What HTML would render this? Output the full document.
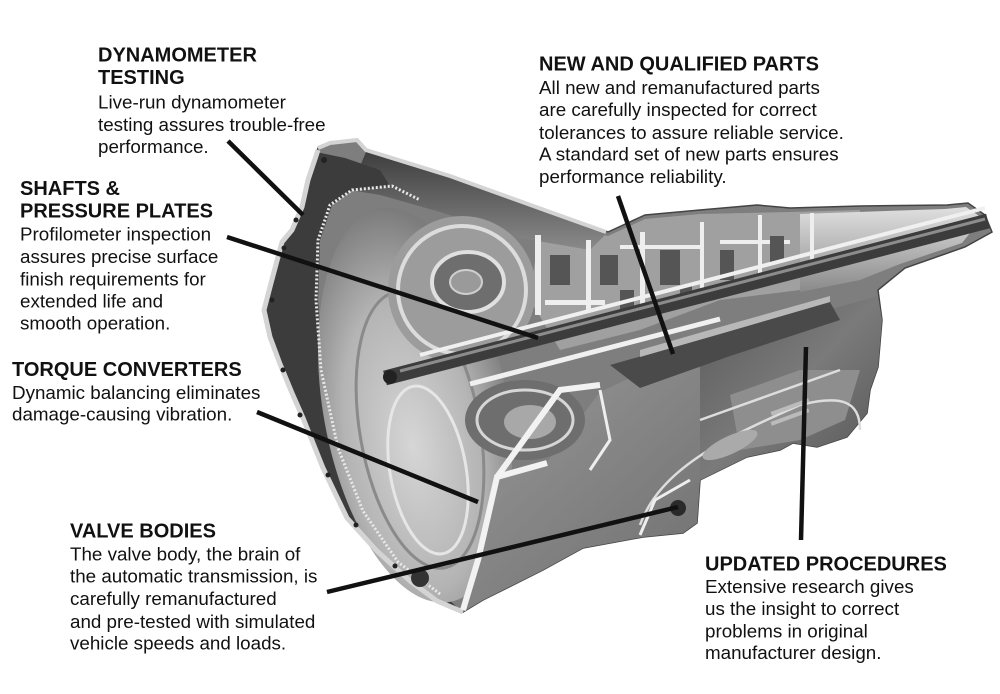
<!DOCTYPE html>
<html><head><meta charset="utf-8"><style>
html,body{margin:0;padding:0;background:#fff;}
svg{display:block;}
.h{font-family:"Liberation Sans",Arial,sans-serif;font-weight:bold;font-size:20px;fill:#111;}
.b{font-family:"Liberation Sans",Arial,sans-serif;font-size:18.8px;fill:#111;}
</style></head><body>
<svg width="1000" height="694" viewBox="0 0 1000 694" xmlns="http://www.w3.org/2000/svg">
<defs>
<radialGradient id="face" cx="0.45" cy="0.6" r="0.6">
<stop offset="0" stop-color="#d6d6d6"/><stop offset="0.6" stop-color="#b4b4b4"/><stop offset="1" stop-color="#7c7c7c"/>
</radialGradient>
<linearGradient id="tail" x1="0" y1="0" x2="0" y2="1">
<stop offset="0" stop-color="#e0e0e0"/><stop offset="1" stop-color="#8a8a8a"/>
</linearGradient>
<linearGradient id="rcase" x1="0" y1="0" x2="1" y2="1">
<stop offset="0" stop-color="#5a5a5a"/><stop offset="0.5" stop-color="#7a7a7a"/><stop offset="1" stop-color="#555"/>
</linearGradient>
<linearGradient id="lcase" x1="0" y1="0" x2="1" y2="1">
<stop offset="0" stop-color="#9a9a9a"/><stop offset="1" stop-color="#6a6a6a"/>
</linearGradient>
<linearGradient id="topb" x1="0" y1="0" x2="0" y2="1">
<stop offset="0" stop-color="#3e3e3e"/><stop offset="1" stop-color="#8a8a8a"/>
</linearGradient>
</defs>

<!-- silhouette -->
<polygon fill="#7e7e7e" stroke="#444" stroke-width="1.5" points="318,148 330,143 357,140 366,150 450,176 550,212 608,232 645,215 700,210 757,205 790,208 860,206 947,205 968,203 985,215 992,232 965,247 905,268 878,290 882,320 878,367 870,390 867,413 847,437 817,447 793,443 780,450 747,457 700,480 697,523 683,533 643,537 583,548 543,570 483,600 463,612 437,601 410,581 377,551 347,518 323,468 303,418 292,393 280,364 270,337 264,310 270,287 282,242 292,230 302,207 308,180"/>

<!-- center mechanism area -->
<polygon fill="#a0a0a0" points="540,222 608,236 645,219 700,214 790,212 860,210 860,262 800,290 720,300 640,330 560,350 530,300"/>
<!-- tail housing interior -->
<polygon fill="url(#tail)" points="800,214 945,209 966,207 982,218 962,243 900,264 860,280 800,292"/>

<!-- top bell interior dark -->
<polygon fill="url(#topb)" points="366,152 450,178 550,213 606,234 590,250 520,238 440,212 380,195 350,190"/>

<!-- dark band inside flange -->
<path fill="#3c3c3c" d="M316,152 L308,180 L302,207 L292,230 L282,242 L270,287 L264,310 L270,337 L280,364 L292,393 L303,418 L323,468 L347,518 L377,551 L410,581 L437,601 L458,608 L440,592 L398,560 L365,510 L340,448 L323,370 L318,300 L320,240 L332,205 L352,190 L390,186 L380,170 L345,158 Z"/>

<!-- converter face -->
<ellipse cx="415" cy="405" rx="92" ry="200" transform="rotate(-10 415 405)" fill="url(#face)"/>
<ellipse cx="420" cy="430" rx="60" ry="140" transform="rotate(-10 420 430)" fill="none" stroke="#8a8a8a" stroke-width="3"/>
<ellipse cx="428" cy="470" rx="38" ry="85" transform="rotate(-10 428 470)" fill="none" stroke="#e6e6e6" stroke-width="3"/>

<!-- ring gear dotted -->
<path d="M440,594 L398,562 L363,511 L338,448 L321,370 L316,300 L318,240 L330,205 L352,190 L392,186 L420,200" fill="none" stroke="#e8e8e8" stroke-width="3" stroke-dasharray="2 2"/>
<!-- flange light edge -->
<path d="M318,150 L308,180 L302,207 L292,230 L282,242 L270,287 L264,310 L270,337 L280,364 L292,393 L303,418 L323,468 L347,518 L377,551 L410,581 L437,601 L463,612" fill="none" stroke="#d4d4d4" stroke-width="5"/>
<path d="M318,148 L330,143 L357,140 L366,150 L450,176 L550,212 L606,232" fill="none" stroke="#d4d4d4" stroke-width="4"/>
<g fill="#222"><circle cx="324" cy="160" r="3"/><circle cx="296" cy="220" r="2.5"/><circle cx="284" cy="248" r="2.5"/><circle cx="272" cy="300" r="2.5"/><circle cx="283" cy="370" r="2.5"/><circle cx="300" cy="415" r="2.5"/><circle cx="328" cy="475" r="2.5"/><circle cx="356" cy="525" r="2.5"/><circle cx="395" cy="566" r="2.5"/></g>

<!-- upper turbine -->
<circle cx="462" cy="290" r="74" fill="#9c9c9c"/>
<circle cx="462" cy="290" r="64" fill="none" stroke="#dcdcdc" stroke-width="4"/>
<ellipse cx="468" cy="282" rx="36" ry="30" fill="#6e6e6e" stroke="#e0e0e0" stroke-width="4"/>
<ellipse cx="466" cy="282" rx="16" ry="12" fill="#9a9a9a" stroke="#cfcfcf" stroke-width="2"/>

<!-- mechanism details -->
<g fill="#eee">
<rect x="535" y="235" width="6" height="80"/>
<rect x="586" y="240" width="5" height="70"/>
<rect x="640" y="232" width="5" height="75"/>
<rect x="700" y="222" width="4" height="70"/>
<rect x="758" y="215" width="4" height="65"/>
<rect x="810" y="213" width="4" height="50"/>
<rect x="545" y="300" width="60" height="5"/>
<rect x="620" y="245" width="80" height="4"/>
<rect x="720" y="240" width="70" height="4"/>
</g>
<g fill="#555">
<rect x="600" y="255" width="18" height="30"/>
<rect x="660" y="250" width="20" height="35"/>
<rect x="720" y="250" width="14" height="30"/>
<rect x="770" y="236" width="14" height="26"/>
<rect x="550" y="255" width="20" height="30"/>
<rect x="620" y="290" width="14" height="22"/>
<rect x="680" y="285" width="12" height="18"/>
</g>

<!-- lower middle case -->
<polygon fill="url(#lcase)" points="497,477 547,462 600,392 700,345 720,350 760,420 747,457 700,480 697,523 683,533 643,537 583,548 543,570 483,600 463,612"/>
<!-- right case -->
<polygon fill="url(#rcase)" points="700,342 800,318 878,296 882,320 878,367 870,390 867,413 847,437 817,447 793,443 780,450 747,457 700,480"/>
<polygon fill="#8e8e8e" points="730,395 800,370 860,370 845,420 800,440 740,450"/>
<g fill="none" stroke="#ddd" stroke-width="2.5">
<path d="M640,525 C660,470 720,440 800,405 C840,395 860,400 860,430"/>
<path d="M700,420 L840,370"/>
</g>
<g fill="#bbb"><rect x="770" y="405" width="40" height="4" transform="rotate(-20 790 407)"/><rect x="770" y="415" width="40" height="4" transform="rotate(-20 790 417)"/></g>
<ellipse cx="730" cy="445" rx="30" ry="9" transform="rotate(-25 730 445)" fill="#aaa"/>

<!-- lower turbine -->
<ellipse cx="525" cy="420" rx="60" ry="40" fill="#6e6e6e"/>
<ellipse cx="525" cy="420" rx="48" ry="30" fill="none" stroke="#d6d6d6" stroke-width="3"/>
<ellipse cx="530" cy="422" rx="26" ry="17" fill="#a8a8a8"/>

<!-- dark drum below shaft -->
<polygon fill="#4a4a4a" points="610,365 720,334 830,302 840,320 730,356 640,388"/>
<polygon fill="#b8b8b8" points="640,350 720,327 830,296 830,302 720,334 640,357"/>

<!-- shaft -->
<line x1="470" y1="384" x2="720" y2="319" stroke="#f0f0f0" stroke-width="5"/>
<line x1="420" y1="355" x2="985" y2="208" stroke="#f0f0f0" stroke-width="4"/>
<line x1="385" y1="378" x2="988" y2="221" stroke="#3c3c3c" stroke-width="15"/>
<line x1="400" y1="371" x2="985" y2="219" stroke="#8c8c8c" stroke-width="3"/>
<circle cx="390" cy="377" r="7" fill="#222"/>

<!-- cut edges white -->
<g fill="none" stroke="#f2f2f2" stroke-width="6">
<path d="M463,610 L478,560 L497,477 L547,463"/>
<path d="M497,477 L560,390 L600,385"/>
</g>
<g fill="none" stroke="#eee" stroke-width="3">
<path d="M600,390 L610,440 L590,470"/>
<path d="M640,535 L655,500 L690,480"/>
</g>
<circle cx="678" cy="508" r="8" fill="#2a2a2a"/>
<circle cx="420" cy="578" r="9" fill="#333"/>

<!-- leader lines -->
<g stroke="#111" stroke-width="4.5" stroke-linecap="butt">
<line x1="228" y1="141" x2="303" y2="215"/>
<line x1="227" y1="237" x2="538" y2="338"/>
<line x1="257" y1="412" x2="478" y2="502"/>
<line x1="327" y1="592" x2="678" y2="507"/>
<line x1="618" y1="196" x2="673" y2="354"/>
<line x1="806" y1="347" x2="801" y2="540"/>
</g>

<!-- text -->
<text class="h" x="98" y="61.5">DYNAMOMETER</text>
<text class="h" x="98" y="84">TESTING</text>
<text class="b" x="98" y="108.5">Live-run dynamometer</text>
<text class="b" x="98" y="131">testing assures trouble-free</text>
<text class="b" x="98" y="153">performance.</text>

<text class="h" x="20" y="195">SHAFTS &amp;</text>
<text class="h" x="20" y="217.5">PRESSURE PLATES</text>
<text class="b" x="20" y="240.5">Profilometer inspection</text>
<text class="b" x="20" y="263">assures precise surface</text>
<text class="b" x="20" y="285.5">finish requirements for</text>
<text class="b" x="20" y="307.5">extended life and</text>
<text class="b" x="20" y="329.5">smooth operation.</text>

<text class="h" x="12" y="376">TORQUE CONVERTERS</text>
<text class="b" x="12" y="399">Dynamic balancing eliminates</text>
<text class="b" x="12" y="420.5">damage-causing vibration.</text>

<text class="h" x="70" y="537.5">VALVE BODIES</text>
<text class="b" x="70" y="560.5">The valve body, the brain of</text>
<text class="b" x="70" y="582.5">the automatic transmission, is</text>
<text class="b" x="70" y="605">carefully remanufactured</text>
<text class="b" x="70" y="628">and pre-tested with simulated</text>
<text class="b" x="70" y="649.5">vehicle speeds and loads.</text>

<text class="h" x="539" y="70.5">NEW AND QUALIFIED PARTS</text>
<text class="b" x="539" y="94">All new and remanufactured parts</text>
<text class="b" x="539" y="116">are carefully inspected for correct</text>
<text class="b" x="539" y="139">tolerances to assure reliable service.</text>
<text class="b" x="539" y="160.5">A standard set of new parts ensures</text>
<text class="b" x="539" y="183">performance reliability.</text>

<text class="h" x="705" y="570.5">UPDATED PROCEDURES</text>
<text class="b" x="705" y="593">Extensive research gives</text>
<text class="b" x="705" y="615">us the insight to correct</text>
<text class="b" x="705" y="637.5">problems in original</text>
<text class="b" x="705" y="659">manufacturer design.</text>
</svg>
</body></html>
